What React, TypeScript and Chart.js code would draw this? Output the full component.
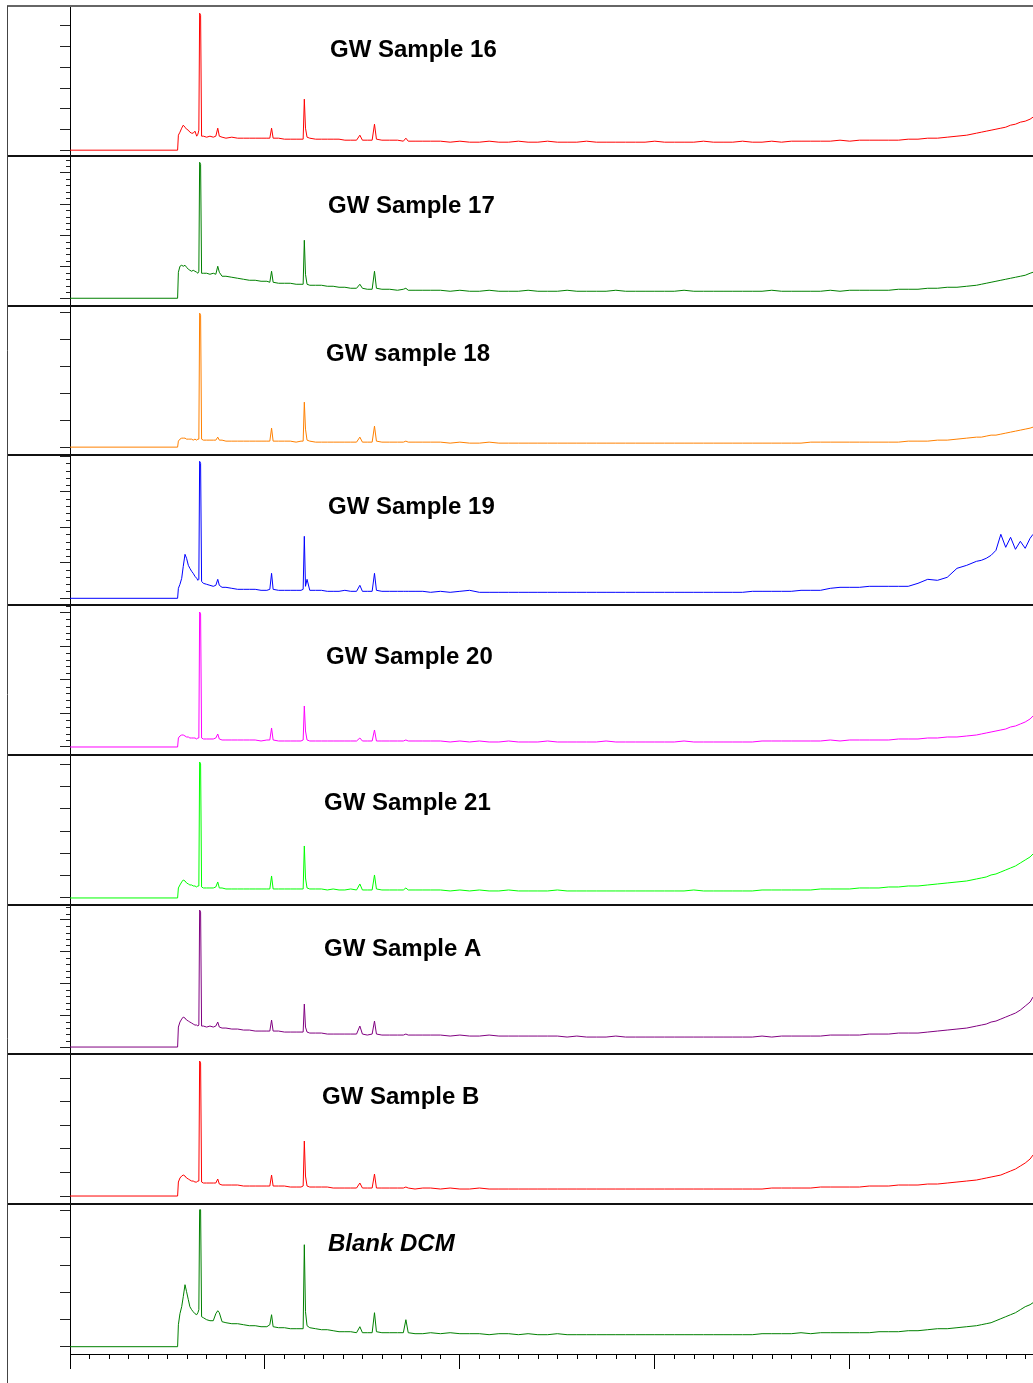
import React, { useEffect, useRef } from 'react';
import { Chart, registerables } from 'chart.js';

Chart.register(...registerables);

// Retention time axis (arbitrary minute-like units); shared by all traces
const TIME = [
  0, 5.52, 5.56, 5.64, 5.73, 5.81, 5.9, 5.98, 6.07, 6.15,
  6.24, 6.32, 6.41, 6.5, 6.56, 6.61, 6.65, 6.7, 6.75, 6.84,
  7.01, 7.18, 7.35, 7.48, 7.58, 7.66, 7.8, 8.0, 8.3, 8.6,
  8.9, 9.2, 9.5, 9.8, 10.1, 10.25, 10.34, 10.42, 10.7, 11.0,
  11.3, 11.6, 11.85, 11.96, 12.02, 12.08, 12.16, 12.3, 12.6, 12.9,
  13.2, 13.5, 13.8, 14.1, 14.4, 14.7, 14.87, 15.0, 15.25, 15.5,
  15.62, 15.72, 16.0, 16.4, 16.8, 17.1, 17.23, 17.35, 17.7, 18.1,
  18.5,
  19, 19.5, 20, 20.5, 21, 21.5, 22, 22.5, 23, 23.5,
  24, 24.5, 25, 25.5, 26, 26.5, 27, 27.5, 28, 28.5,
  29, 29.5, 30, 30.5, 31, 31.5, 32, 32.5, 33, 33.5,
  34, 34.5, 35, 35.5, 36, 36.5, 37, 37.5, 38, 38.5,
  39, 39.5, 40, 40.5, 41, 41.5, 42, 42.5, 43, 43.5,
  44, 44.5, 45, 45.5, 46, 46.5,
  46.75, 47, 47.25, 47.5, 47.75, 48, 48.25, 48.5, 48.75, 49, 49.25, 49.4,
];

// Relative abundance traces (arbitrary units)
const GW_SAMPLE_16 = [
  0, 0, 15, 18, 22, 25, 23, 21, 20, 18,
  17, 17, 19, 14, 16, 20, 137, 135, 14, 14,
  13, 14, 13, 14, 22, 14, 13, 12, 13, 12,
  12, 12, 12, 12, 12, 12, 22, 12, 12, 11,
  11, 11, 11, 11, 51, 22, 13, 12, 11, 11,
  11, 11, 11, 10, 10, 10, 15, 10, 10, 10,
  26, 11, 10, 10, 10, 9, 12, 9, 9, 9,
  9,
  9, 8, 9, 8, 8, 9, 8, 8, 9, 8,
  8, 9, 8, 8, 8, 9, 8, 8, 8, 8,
  8, 8, 9, 8, 8, 8, 8, 9, 8, 8,
  8, 9, 8, 8, 9, 8, 9, 9, 9, 9,
  9, 10, 9, 10, 10, 10, 10, 10, 11, 11,
  12, 12, 13, 14, 15, 17,
  18, 19, 20, 21, 22, 23, 25, 26, 28, 29, 31, 33,
];

const GW_SAMPLE_17 = [
  0, 0, 26, 32, 33, 32, 33, 31, 29, 28,
  27, 28, 27, 26, 25, 27, 136, 134, 25, 25,
  25, 24, 25, 24, 32, 26, 22, 22, 21, 20,
  19, 18, 18, 17, 17, 16, 27, 16, 15, 15,
  15, 14, 14, 14, 58, 24, 14, 13, 13, 13,
  12, 12, 11, 11, 10, 10, 14, 10, 9, 9,
  27, 10, 9, 9, 8, 9, 10, 8, 8, 8,
  8,
  8, 7, 8, 7, 7, 8, 7, 7, 7, 8,
  7, 7, 7, 8, 7, 7, 7, 7, 8, 7,
  7, 7, 7, 7, 7, 8, 7, 7, 7, 7,
  7, 7, 7, 7, 8, 7, 7, 7, 7, 7,
  8, 7, 8, 8, 8, 8, 8, 9, 9, 9,
  10, 10, 11, 11, 12, 13,
  14, 15, 16, 17, 18, 19, 20, 21, 22, 23, 25, 26,
];

const GW_SAMPLE_18 = [
  0, 0, 6, 8, 9, 9, 9, 8, 8, 8,
  8, 7, 8, 7, 8, 8, 134, 132, 8, 7,
  7, 7, 7, 7, 10, 7, 7, 6, 6, 6,
  6, 6, 6, 6, 6, 6, 19, 6, 6, 6,
  6, 5, 6, 6, 45, 18, 7, 6, 5, 5,
  5, 5, 5, 5, 5, 5, 10, 5, 5, 5,
  21, 6, 5, 5, 5, 5, 6, 5, 5, 5,
  5,
  5, 4, 5, 4, 4, 5, 4, 4, 4, 4,
  4, 4, 4, 4, 4, 4, 4, 4, 4, 4,
  4, 4, 4, 4, 4, 4, 4, 4, 4, 4,
  4, 4, 4, 4, 4, 4, 4, 4, 5, 5,
  5, 5, 5, 5, 5, 5, 5, 5, 6, 6,
  6, 7, 7, 8, 9, 10,
  10, 11, 12, 12, 13, 14, 15, 16, 17, 18, 19, 20,
];

const GW_SAMPLE_19 = [
  0, 0, 10, 14, 20, 32, 44, 40, 33, 30,
  27, 25, 22, 20, 18, 19, 137, 135, 17, 15,
  14, 13, 12, 13, 19, 13, 11, 11, 10, 9,
  9, 9, 9, 8, 8, 9, 25, 9, 8, 8,
  8, 8, 8, 9, 62, 12, 19, 8, 8, 8,
  7, 7, 7, 8, 7, 7, 13, 7, 7, 7,
  25, 8, 7, 7, 7, 7, 7, 7, 7, 7,
  6,
  7, 6, 7, 8, 6, 6, 6, 6, 6, 6,
  6, 6, 6, 6, 6, 6, 6, 6, 6, 6,
  6, 6, 6, 6, 6, 6, 6, 6, 6, 6,
  6, 6, 7, 7, 7, 7, 7, 8, 8, 8,
  10, 11, 11, 11, 12, 12, 12, 12, 12, 15,
  19, 18, 21, 30, 33, 37,
  38, 40, 43, 48, 64, 51, 61, 49, 57, 50, 60, 64,
];

const GW_SAMPLE_20 = [
  0, 0, 9, 11, 12, 12, 11, 10, 10, 9,
  9, 9, 9, 8, 9, 9, 135, 133, 9, 8,
  8, 8, 8, 9, 13, 8, 7, 7, 7, 7,
  7, 7, 7, 6, 7, 7, 19, 7, 6, 6,
  6, 6, 6, 7, 41, 16, 7, 6, 6, 6,
  6, 6, 6, 6, 6, 6, 9, 6, 6, 6,
  17, 6, 6, 6, 6, 6, 7, 6, 6, 6,
  6,
  6, 5, 6, 5, 6, 5, 5, 6, 5, 5,
  5, 6, 5, 5, 5, 5, 5, 6, 5, 5,
  5, 5, 5, 5, 5, 6, 5, 5, 5, 5,
  5, 5, 5, 6, 6, 6, 6, 6, 6, 6,
  7, 6, 7, 7, 7, 7, 7, 8, 8, 8,
  9, 9, 10, 10, 11, 12,
  13, 14, 15, 16, 17, 18, 20, 21, 23, 25, 28, 31,
];

const GW_SAMPLE_21 = [
  0, 0, 10, 13, 16, 18, 17, 15, 14, 13,
  13, 12, 12, 11, 12, 12, 136, 134, 11, 10,
  10, 10, 10, 11, 16, 10, 10, 9, 9, 9,
  9, 9, 9, 9, 9, 9, 22, 9, 9, 9,
  9, 9, 9, 9, 52, 20, 10, 9, 9, 9,
  8, 9, 8, 8, 9, 8, 14, 8, 8, 8,
  23, 9, 8, 8, 8, 8, 10, 8, 8, 8,
  8,
  8, 7, 8, 7, 8, 7, 7, 8, 7, 7,
  7, 7, 8, 7, 7, 7, 7, 7, 7, 7,
  7, 7, 7, 7, 7, 7, 8, 7, 7, 7,
  7, 7, 7, 8, 8, 8, 8, 8, 8, 9,
  9, 9, 9, 10, 10, 10, 11, 11, 12, 12,
  13, 14, 15, 16, 17, 19,
  20, 21, 23, 24, 26, 28, 30, 32, 35, 38, 41, 44,
];

const GW_SAMPLE_A = [
  0, 0, 20, 25, 28, 30, 29, 27, 26, 25,
  24, 23, 22, 22, 21, 22, 137, 135, 21, 21,
  20, 21, 20, 21, 25, 20, 19, 19, 18, 18,
  17, 17, 16, 16, 16, 16, 27, 16, 16, 15,
  15, 15, 15, 15, 43, 20, 15, 14, 14, 14,
  13, 13, 13, 13, 13, 13, 21, 13, 12, 13,
  26, 13, 12, 12, 12, 12, 13, 12, 12, 12,
  12,
  12, 11, 12, 11, 11, 12, 11, 11, 11, 11,
  11, 11, 11, 10, 11, 10, 10, 10, 11, 10,
  10, 10, 10, 10, 10, 10, 10, 10, 10, 10,
  10, 10, 10, 11, 10, 11, 11, 11, 11, 11,
  12, 12, 12, 12, 13, 13, 13, 14, 14, 14,
  15, 16, 17, 18, 19, 21,
  22, 23, 25, 26, 28, 30, 32, 34, 37, 41, 45, 50,
];

const GW_SAMPLE_B = [
  0, 0, 14, 18, 20, 21, 20, 18, 17, 16,
  15, 15, 14, 14, 15, 15, 135, 133, 14, 13,
  13, 13, 13, 13, 17, 12, 11, 11, 11, 11,
  10, 10, 10, 10, 10, 10, 21, 10, 10, 10,
  9, 9, 9, 10, 55, 20, 10, 9, 9, 9,
  9, 8, 8, 8, 8, 8, 13, 8, 8, 8,
  22, 8, 8, 8, 8, 8, 9, 8, 7, 8,
  8,
  7, 8, 7, 7, 8, 7, 7, 7, 7, 7,
  7, 7, 7, 7, 7, 7, 7, 7, 7, 7,
  7, 7, 7, 7, 7, 7, 7, 7, 7, 7,
  7, 7, 7, 7, 8, 8, 8, 8, 8, 9,
  9, 9, 9, 9, 10, 10, 10, 11, 11, 11,
  12, 12, 13, 14, 15, 16,
  17, 18, 19, 20, 21, 23, 25, 27, 30, 33, 37, 41,
];

const BLANK_DCM = [
  0, 0, 22, 33, 40, 50, 62, 55, 47, 40,
  37, 35, 33, 32, 34, 37, 137, 137, 30, 29,
  27, 26, 26, 33, 36, 34, 25, 24, 23, 23,
  22, 21, 21, 20, 20, 22, 32, 20, 19, 19,
  18, 18, 18, 18, 102, 35, 21, 19, 18, 17,
  17, 16, 15, 15, 15, 14, 20, 14, 14, 14,
  34, 15, 14, 14, 14, 14, 27, 14, 13, 13,
  14,
  13, 14, 13, 13, 13, 12, 13, 13, 12, 13,
  12, 12, 13, 12, 12, 12, 12, 12, 12, 12,
  12, 12, 12, 12, 12, 12, 12, 12, 12, 12,
  12, 12, 12, 13, 13, 13, 13, 14, 13, 14,
  14, 14, 14, 14, 14, 15, 15, 15, 16, 16,
  17, 18, 18, 19, 20, 21,
  22, 23, 24, 26, 28, 30, 32, 34, 37, 40, 42, 44,
];

const SERIES = [
  GW_SAMPLE_16, GW_SAMPLE_17, GW_SAMPLE_18, GW_SAMPLE_19, GW_SAMPLE_20,
  GW_SAMPLE_21, GW_SAMPLE_A, GW_SAMPLE_B, BLANK_DCM,
];

const PANEL_LABELS = [
  'GW Sample 16', 'GW Sample 17', 'GW sample 18', 'GW Sample 19', 'GW Sample 20',
  'GW Sample 21', 'GW Sample A', 'GW Sample B', 'Blank DCM',
];

const X_MAJOR_TICKS = [0, 10, 20, 30, 40];
const X_MAX = 49.4;
const Y_MAJOR_STEP = [20.7, 31.4, 26.9, 35.5, 33.6, 22.3, 31.8, 23.6, 27.2];

// ---- styling / layout (kept apart from the data) ----
const COLORS = ['#ff0000', '#008000', '#ff8000', '#0000ff', '#ff00ff', '#00ff00', '#800080', '#ff0000', '#008000'];
const HAS_MINOR = [false, true, false, true, true, false, true, false, false];
const BASE_OFFSET = [5.6, 7.3, 8.2, 6.8, 7.9, 6.7, 7.4, 8.2, 7.3];
const PANEL_SPAN = 149.8;
const LABEL_X = [330, 328, 326, 328, 326, 324, 324, 322, 328];
const LABEL_BASE_FROM_TOP = [51.3, 57.5, 55, 59, 58.4, 55.6, 51.8, 49.1, 46.3];
const LABEL_ITALIC = [false, false, false, false, false, false, false, false, true];
const W = 1033;
const H = 1383;

const framePlugin = {
  id: 'frame',
  afterDraw(chart: any) {
    const ctx = chart.ctx;
    const area = chart.chartArea;
    ctx.save();
    // minor ticks on y axes
    ctx.strokeStyle = '#222';
    ctx.lineWidth = 1;
    SERIES.forEach((_, i) => {
      const s = chart.scales['y' + i];
      if (HAS_MINOR[i]) {
        const step = Y_MAJOR_STEP[i] / 5;
        for (let k = 1; k * step <= s.max; k++) {
          if (k % 5 === 0) continue;
          const y = Math.round(s.getPixelForValue(k * step)) + 0.5;
          ctx.beginPath();
          ctx.moveTo(area.left - 4, y);
          ctx.lineTo(area.left, y);
          ctx.stroke();
        }
      }
    });
    // minor ticks on x axis
    const xs = chart.scales.x;
    ctx.strokeStyle = '#000';
    for (let v = 1; v <= X_MAX; v++) {
      if (v % 10 === 0) continue;
      const x = Math.round(xs.getPixelForValue(v)) + 0.5;
      ctx.beginPath();
      ctx.moveTo(x, area.bottom);
      ctx.lineTo(x, area.bottom + 5);
      ctx.stroke();
    }
    // panel separators
    ctx.strokeStyle = '#111';
    ctx.lineWidth = 2;
    for (let i = 0; i < SERIES.length - 1; i++) {
      const y = Math.round(chart.scales['y' + i].bottom);
      ctx.beginPath();
      ctx.moveTo(7, y);
      ctx.lineTo(W, y);
      ctx.stroke();
    }
    // top frame line
    ctx.strokeStyle = '#666';
    ctx.beginPath();
    ctx.moveTo(7, 6);
    ctx.lineTo(W, 6);
    ctx.stroke();
    // left frame line
    ctx.strokeStyle = '#444';
    ctx.lineWidth = 1;
    ctx.beginPath();
    ctx.moveTo(7.5, 6);
    ctx.lineTo(7.5, H);
    ctx.stroke();
    // panel labels
    ctx.fillStyle = '#000';
    ctx.textBaseline = 'alphabetic';
    ctx.textAlign = 'left';
    PANEL_LABELS.forEach((label, i) => {
      const s = chart.scales['y' + i];
      ctx.font = (LABEL_ITALIC[i] ? 'italic ' : '') + 'bold 24px "Liberation Sans", Arial, sans-serif';
      ctx.fillText(label, LABEL_X[i], s.top + LABEL_BASE_FROM_TOP[i]);
    });
    ctx.restore();
  },
};

export default function App() {
  const ref = useRef<HTMLCanvasElement>(null);
  useEffect(() => {
    const datasets = SERIES.map((vals, i) => ({
      label: PANEL_LABELS[i],
      data: TIME.map((t, j) => ({ x: t, y: vals[j] })),
      borderColor: COLORS[i],
      backgroundColor: COLORS[i],
      borderWidth: 1,
      pointRadius: 0,
      tension: 0,
      fill: false,
      xAxisID: 'x',
      yAxisID: 'y' + i,
    }));
    const scales: any = {
      x: {
        type: 'linear',
        position: 'bottom',
        min: 0,
        max: X_MAX,
        afterBuildTicks: (s: any) => {
          s.ticks = X_MAJOR_TICKS.map((v) => ({ value: v }));
        },
        ticks: { display: false },
        grid: { display: true, drawOnChartArea: false, drawTicks: true, tickLength: 15, tickColor: '#000', tickWidth: 1 },
        border: { display: true, color: '#000', width: 1 },
      },
    };
    SERIES.forEach((_, i) => {
      const step = Y_MAJOR_STEP[i];
      const max = PANEL_SPAN - BASE_OFFSET[i];
      scales['y' + i] = {
        type: 'linear',
        position: 'left',
        stack: 'panels',
        stackWeight: 1,
        weight: SERIES.length - i,
        offset: false,
        min: -BASE_OFFSET[i],
        max,
        afterBuildTicks: (s: any) => {
          const t = [];
          for (let k = 0; k * step <= max; k++) t.push({ value: k * step });
          s.ticks = t;
        },
        ticks: { display: false },
        grid: { display: true, drawOnChartArea: false, drawTicks: true, tickLength: 10, tickColor: '#222', tickWidth: 1 },
        border: { display: true, color: '#000', width: 1 },
      };
    });
    const chart = new Chart(ref.current as HTMLCanvasElement, {
      type: 'line',
      data: { datasets } as any,
      options: {
        responsive: false,
        animation: false,
        devicePixelRatio: 1,
        events: [],
        layout: { padding: { left: 60, top: 6, right: 0, bottom: 14 } },
        plugins: { legend: { display: false }, tooltip: { enabled: false } },
        scales,
      } as any,
      plugins: [framePlugin],
    });
    return () => chart.destroy();
  }, []);
  return (
    <div style={{ position: 'fixed', left: 0, top: 0, width: W, height: H, overflow: 'hidden', background: '#fff' }}>
      <canvas ref={ref} width={W} height={H} style={{ display: 'block', width: W, height: H }} />
    </div>
  );
}
